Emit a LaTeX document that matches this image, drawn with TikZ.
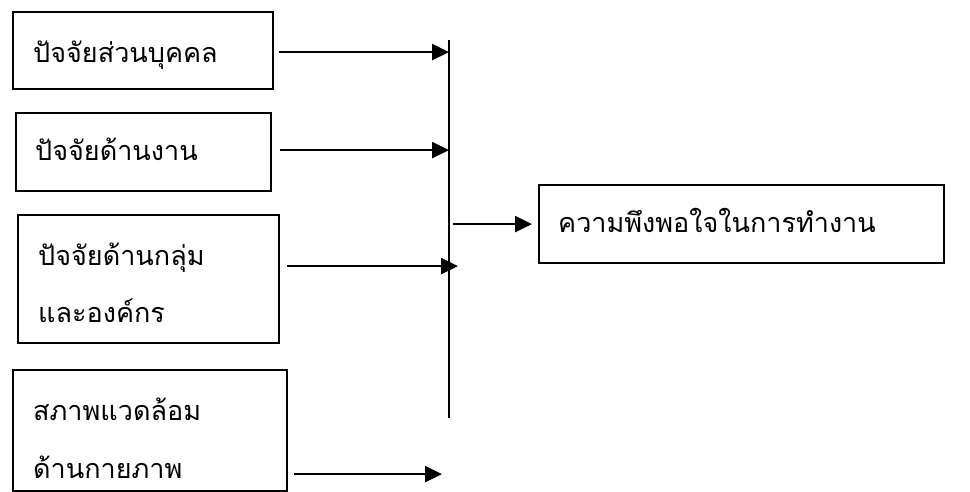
\documentclass[tikz,border=0pt]{standalone}
\usepackage{fontspec}
\newfontfamily\thaifont[Script=Thai]{Loma}
\usetikzlibrary{arrows.meta,calc}
\tikzset{
  box/.style={draw, line width=2.2pt, rectangle, inner sep=0pt, anchor=north west},
  txt/.style={anchor=base west, inner sep=0pt, font=\thaifont\fontsize{27}{32}\selectfont},
  arr/.style={line width=2.5pt, -{Triangle[length=17pt,width=16pt]}},
  bar/.style={line width=1.6pt}
}
\begin{document}
\begin{tikzpicture}[x=1pt,y=-1pt]
\useasboundingbox (0,0) rectangle (970,491);
% boxes
\node[box, minimum width=260pt, minimum height=77pt] (b1) at (12,11) {};
\node[box, minimum width=255pt, minimum height=78pt] (b2) at (15,112) {};
\node[box, minimum width=261pt, minimum height=128pt] (b3) at (17,214) {};
\node[box, minimum width=274pt, minimum height=121pt] (b4) at (12,369) {};
\node[box, minimum width=405pt, minimum height=78pt] (out) at (538,184) {};
% texts
\node[txt] (t1) at (33,62) {ปัจจัยส่วนบุคคล};
\node[txt] (t2) at (35,160) {ปัจจัยด้านงาน};
\node[txt] (t3a) at (38,265) {ปัจจัยด้านกลุ่ม};
\node[txt] (t3b) at (38,322) {และองค์กร};
\node[txt] (t4a) at (33,420) {สภาพแวดล้อม};
\node[txt] (t4b) at (33,478) {ด้านกายภาพ};
\node[txt] (to) at (558,232) {ความพึงพอใจในการทำงาน};
% vertical bar
\coordinate (top) at (449,40);
\coordinate (bot) at (449,418);
\draw[bar] (top) -- (bot);
% arrows
\draw[arr] ($(b1.east)+(5,1.5)$) -- ($(b1.east -| top)+(0,1.5)$);
\draw[arr] ($(b2.east)+(8,-2)$) -- ($(b2.east -| top)+(0,-2)$);
\draw[arr] ($(b3.east)+(7,-13)$) -- ($(b3.east -| top)+(9,-13)$);
\draw[arr] ($(b4.east)+(6,43.5)$) -- ($(b4.east -| top)+(-7,43.5)$);
\draw[arr] ($(out.west -| top)+(4,0)$) -- ($(out.west)+(-6,0)$);
\end{tikzpicture}
\end{document}
